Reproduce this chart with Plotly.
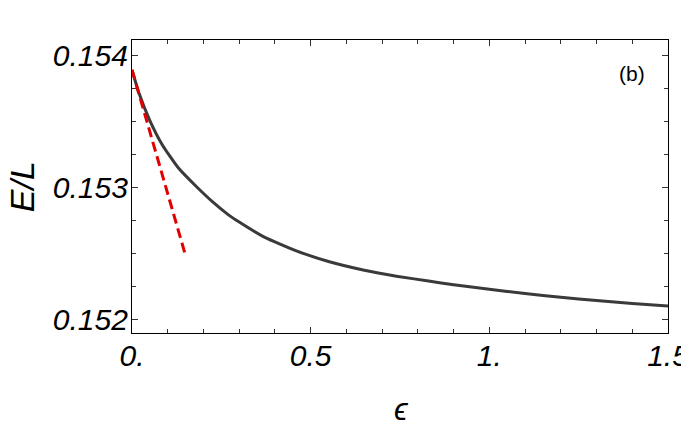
import plotly.graph_objects as go

# ── Datos ────────────────────────────────────────────────────────────────────
eps = [0, 0.02, 0.05, 0.085, 0.13, 0.18, 0.225, 0.27, 0.3, 0.365, 0.4,
       0.46, 0.55, 0.65, 0.74, 0.83, 0.9, 1.0, 1.1, 1.2, 1.3, 1.4, 1.5]
energy = [0.15389, 0.15371, 0.153505, 0.15332, 0.153145, 0.153005, 0.15289,
          0.15279, 0.152735, 0.152629, 0.152585, 0.152517, 0.152436,
          0.15237, 0.152325, 0.152288, 0.15226, 0.152225, 0.152193,
          0.152165, 0.15214, 0.152118, 0.152098]

# Aproximación lineal (tangente en eps = 0)
eps_lin = [0, 0.15]
energy_lin = [0.15389, 0.15248]

x_ticks = [0, 0.5, 1.0, 1.5]
x_ticktext = ["0.", "0.5", "1.", "1.5"]
y_ticks = [0.152, 0.153, 0.154]
y_ticktext = ["0.152", "0.153", "0.154"]

FONT = "Liberation Sans, Arial, sans-serif"
C_CURVE = "#3a3a3a"
C_RED = "#e00000"

fig = go.Figure()
fig.add_trace(go.Scatter(
    x=eps, y=energy, mode="lines",
    line=dict(color=C_CURVE, width=3, shape="spline", smoothing=0.5),
    showlegend=False,
))
fig.add_trace(go.Scatter(
    x=eps_lin, y=energy_lin, mode="lines",
    line=dict(color=C_RED, width=3, dash="10px,5px"),
    showlegend=False,
))

# Etiqueta del panel y títulos de ejes (colocados a mano)
fig.add_annotation(
    text="(b)", x=0.933, y=0.885, xref="paper", yref="paper",
    xanchor="center", yanchor="middle",
    showarrow=False, font=dict(family=FONT, size=21, color="black"),
)
fig.add_annotation(
    text="<i>E/L</i>", x=-0.205, y=0.498, xref="paper", yref="paper",
    xanchor="center", yanchor="middle", textangle=-90, height=28,
    showarrow=False, font=dict(family=FONT, size=34, color="black"),
)
fig.add_annotation(
    text="<i>ϵ</i>", x=0.5036, y=-0.258, xref="paper", yref="paper",
    xanchor="center", yanchor="middle", height=26,
    showarrow=False, font=dict(family=FONT, size=31, color="black"),
)

axis_common = dict(
    showline=True, linecolor="black", linewidth=1.2, mirror="allticks",
    ticks="inside", ticklen=6, tickcolor="#333", tickwidth=1,
    showgrid=False, zeroline=False, automargin=False,
    ticklabeloverflow="allow",
    tickfont=dict(family=FONT, size=30, color="black", style="italic"),
)

fig.update_xaxes(
    **axis_common,
    range=[0, 1.5], tickvals=x_ticks, ticktext=x_ticktext,
    ticklabelstandoff=-4,
    minor=dict(dtick=0.1, ticks="inside", ticklen=4, tickcolor="#333"),
)
fig.update_yaxes(
    **axis_common,
    range=[0.151894, 0.154116], tickvals=y_ticks, ticktext=y_ticktext,
    ticklabelstandoff=-3,
    minor=dict(dtick=0.00025, ticks="inside", ticklen=4, tickcolor="#333"),
)

# La página añade 8 px de margen al body: se compensa con tamaño y márgenes
fig.update_layout(
    width=681, height=417,
    paper_bgcolor="white", plot_bgcolor="white",
    margin=dict(l=124, r=21, t=32, b=92),
)

fig.write_html("out.html")
